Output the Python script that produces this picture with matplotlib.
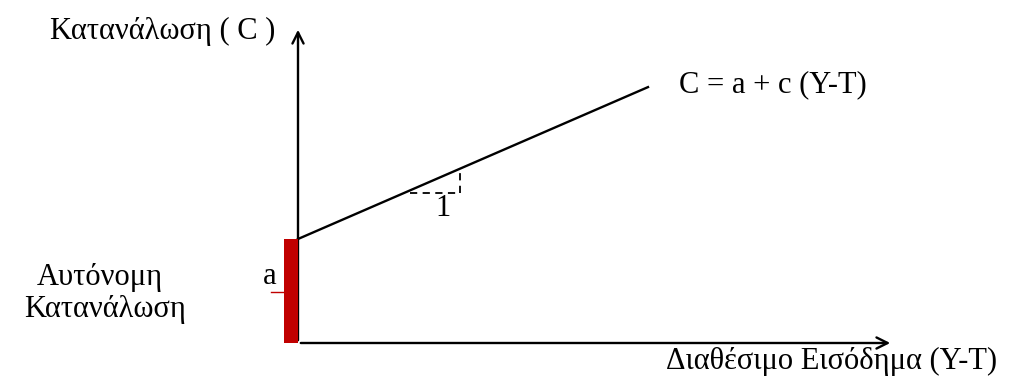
import matplotlib
matplotlib.use('Agg')
import matplotlib.pyplot as plt

plt.rcParams['font.family'] = ['Liberation Serif', 'DejaVu Serif']

# consumption function C = a + c (Y-T), in pixel-like units from the origin
a = 104
c = 0.434
y_end = 350
x_axis_len = 595
y_axis_len = 316
step_x = [112, 162]   # the dashed "1" step under the line

fig = plt.figure(figsize=(10.25, 3.76), dpi=100)
ax = fig.add_axes([0, 0, 1, 1])
ax.set_xlim(-298, 727)
ax.set_ylim(-33, 343)
ax.axis('off')

# axes with arrows
ax.annotate('', xy=(x_axis_len, 0), xytext=(0, 0),
            arrowprops=dict(arrowstyle='->', lw=1.7, color='black', mutation_scale=20))
ax.annotate('', xy=(0, y_axis_len), xytext=(0, 0),
            arrowprops=dict(arrowstyle='->', lw=1.7, color='black', mutation_scale=20))

# autonomous consumption bar
ax.bar(-7, a, width=14, bottom=0, color='#C00000', zorder=3)
ax.plot([-27, -14], [51, 51], color='#C00000', lw=1)

# consumption line
ax.plot([0, y_end], [a, a + c * y_end], color='black', lw=1.7)

# dashed step
yb = a + c * step_x[0] - 3
ax.plot([step_x[0], step_x[1]], [yb, yb], color='black', lw=1.3, ls=(0, (4, 3)))
ax.plot([step_x[1], step_x[1]], [yb, a + c * step_x[1]], color='black', lw=1.3, ls=(0, (4, 3)))

fs = 22
ax.text(-135, 312, 'Κατανάλωση ( C )', fontsize=fs, va='center', ha='center')
ax.text(475, 258, 'C = a + c (Y-T)', fontsize=fs, va='center', ha='center')
ax.text(145, 135, '1', fontsize=fs, va='center', ha='center')
ax.text(-28, 66, 'a', fontsize=fs, va='center', ha='center')
ax.text(-198, 66, 'Αυτόνομη', fontsize=fs, va='center', ha='center')
ax.text(-193, 33, 'Κατανάλωση', fontsize=fs, va='center', ha='center')
ax.text(534, -18, 'Διαθέσιμο Εισόδημα (Y-T)', fontsize=fs, va='center', ha='center')

fig.savefig('out.png', dpi=100)
